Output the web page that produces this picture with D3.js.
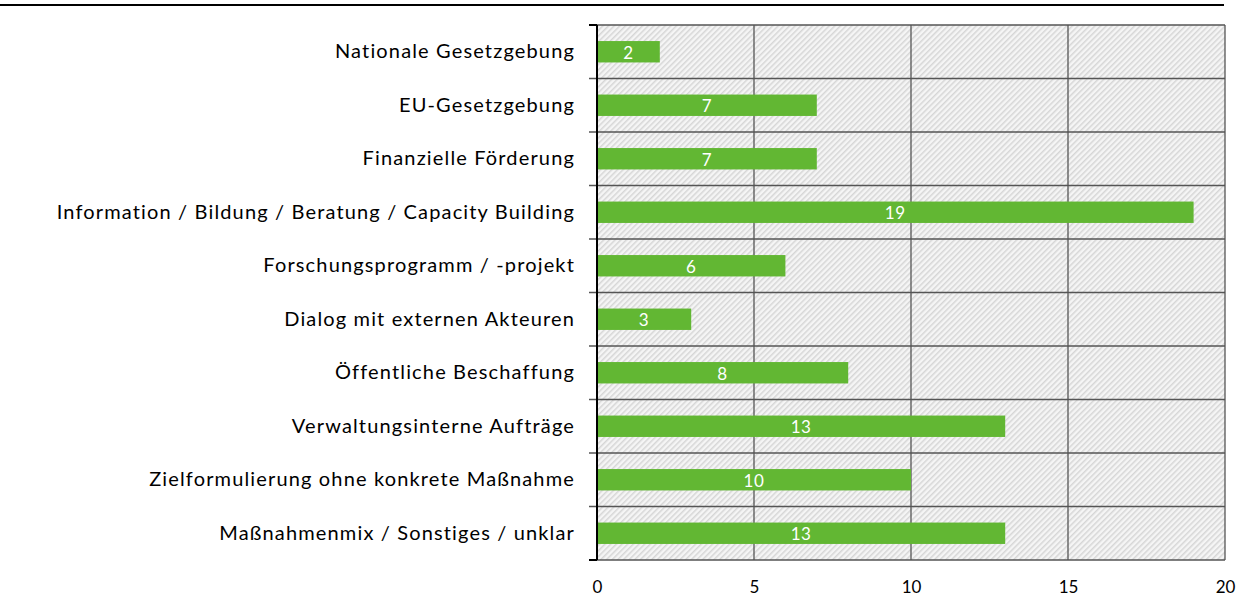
<!DOCTYPE html>
<html>
<head>
<meta charset="utf-8">
<script src="https://cdn.jsdelivr.net/npm/d3@7"></script>
<style>
  body { margin: 0; background: #fff; }
  text { font-family: Lato, "Open Sans", sans-serif; }
</style>
</head>
<body>
<div id="canvas"></div>
<script>
// categories and values
var categories = [
  "Nationale Gesetzgebung",
  "EU-Gesetzgebung",
  "Finanzielle Förderung",
  "Information / Bildung / Beratung / Capacity Building",
  "Forschungsprogramm / -projekt",
  "Dialog mit externen Akteuren",
  "Öffentliche Beschaffung",
  "Verwaltungsinterne Aufträge",
  "Zielformulierung ohne konkrete Maßnahme",
  "Maßnahmenmix / Sonstiges / unklar"
];
var values = [2, 7, 7, 19, 6, 3, 8, 13, 10, 13];
var xTicks = [0, 5, 10, 15, 20];

var data = categories.map((c, i) => { return {cat: c, value: values[i]}; });

var W = 1244, H = 598;
var margin = {left: 597, right: 19, top: 25, bottom: 38};
var width = W - margin.left - margin.right;
var height = H - margin.top - margin.bottom;

var svg = d3.select("#canvas").append("svg")
  .attr("width", W)
  .attr("height", H);

// hatch pattern
var defs = svg.append("defs");
var pat = defs.append("pattern")
  .attr("id", "hatch")
  .attr("patternUnits", "userSpaceOnUse")
  .attr("width", 4)
  .attr("height", 4)
  .attr("patternTransform", "rotate(45)");
pat.append("rect").attr("width", 4).attr("height", 4).attr("fill", "#f5f5f5");
pat.append("rect").attr("x", 0).attr("width", 1.5).attr("height", 4).attr("fill", "#d6d6d6");

// top rule
svg.append("line")
  .attr("x1", 0).attr("x2", 1224)
  .attr("y1", 5).attr("y2", 5)
  .attr("stroke", "#000")
  .attr("stroke-width", 2);

var g = svg.append("g")
  .attr("transform", "translate(" + margin.left + ", " + margin.top + ")");

var x = d3.scaleLinear().domain([0, 20]).range([0, width]);
var y = d3.scaleBand().domain(categories).range([0, height]).paddingInner(0.6).paddingOuter(0.3);
var yb = d3.scaleBand().domain(categories).range([0, height]);

g.append("rect")
  .attr("width", width)
  .attr("height", height)
  .attr("fill", "url(#hatch)");

// horizontal grid between categories
g.append("g").selectAll("line")
  .data(categories.slice(1))
  .enter().append("line")
  .attr("x1", -8).attr("x2", width)
  .attr("y1", (d) => yb(d)).attr("y2", (d) => yb(d))
  .attr("stroke", "#555")
  .attr("stroke-width", 1.3);

// vertical grid
g.append("g").selectAll("line")
  .data(xTicks.slice(1))
  .enter().append("line")
  .attr("x1", (d) => x(d)).attr("x2", (d) => x(d))
  .attr("y1", 0).attr("y2", height)
  .attr("stroke", "#555")
  .attr("stroke-width", 1.3);

// plot border top/bottom
g.append("line")
  .attr("x1", 0).attr("x2", width)
  .attr("y1", 0).attr("y2", 0)
  .attr("stroke", "#555").attr("stroke-width", 1.3);
g.append("line")
  .attr("x1", 0).attr("x2", width)
  .attr("y1", height).attr("y2", height)
  .attr("stroke", "#555").attr("stroke-width", 1.3);

// bars
g.selectAll(".bar").data(data).enter()
  .append("rect")
  .attr("class", "bar")
  .attr("x", 0)
  .attr("y", (d) => y(d.cat))
  .attr("width", (d) => x(d.value))
  .attr("height", y.bandwidth())
  .attr("fill", "#62b733");

// value labels
g.selectAll(".val").data(data).enter()
  .append("text")
  .attr("class", "val")
  .attr("x", (d) => x(d.value) / 2)
  .attr("y", (d) => y(d.cat) + y.bandwidth() / 2 + 7)
  .attr("text-anchor", "middle")
  .attr("font-size", "17px")
  .attr("letter-spacing", "0.6px")
  .attr("fill", "#fff")
  .text((d) => d.value);

// left axis
var leftAxis = d3.axisLeft(yb).tickSize(0).tickPadding(22);
var ya = g.append("g").call(leftAxis);
ya.select(".domain").remove();
ya.selectAll("text")
  .attr("font-size", "20px")
  .attr("letter-spacing", "1.15px")
  .attr("fill", "#000");
g.append("line")
  .attr("x1", 0).attr("x2", 0)
  .attr("y1", 0).attr("y2", height)
  .attr("stroke", "#000").attr("stroke-width", 2);
g.append("g").selectAll("line")
  .data([0, height])
  .enter().append("line")
  .attr("x1", -8).attr("x2", 0)
  .attr("y1", (d) => d).attr("y2", (d) => d)
  .attr("stroke", "#000").attr("stroke-width", 2);

// bottom axis labels
var bottomAxis = d3.axisBottom(x).tickValues(xTicks).tickSize(0).tickPadding(21);
var xa = g.append("g")
  .attr("transform", "translate(0, " + height + ")")
  .call(bottomAxis);
xa.select(".domain").remove();
xa.selectAll("text")
  .attr("font-size", "17px")
  .attr("fill", "#000");
</script>
</body>
</html>
